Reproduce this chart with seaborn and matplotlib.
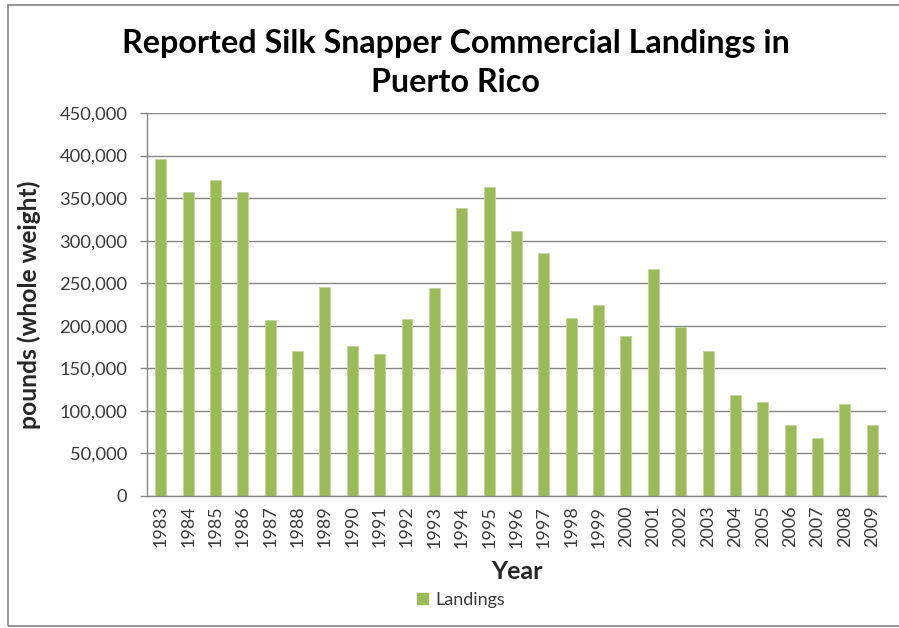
import matplotlib
matplotlib.use("Agg")
import matplotlib.pyplot as plt
import seaborn as sns
import numpy as np
from matplotlib.patches import Patch, Rectangle
from matplotlib.ticker import FuncFormatter, MultipleLocator, FixedLocator

years = [str(y) for y in range(1983, 2010)]
landings = [396000, 357000, 371000, 357000, 207000, 170000, 246000, 176500, 167000,
            208000, 244000, 338000, 363500, 311000, 285000, 209000, 224000, 188000,
            267000, 198000, 170000, 119000, 110000, 83000, 68000, 108000, 83000]
series_name = "Landings"
title = "Reported Silk Snapper Commercial Landings in\nPuerto Rico"
xlabel = "Year"
ylabel = "pounds (whole weight)"

sns.set_style("white")
plt.rcParams['font.family'] = ['Lato', 'DejaVu Sans']

bar_color = "#9BBB59"
grid_color = "#868686"
text_gray = "#3a3a3a"

fig = plt.figure(figsize=(8.99, 6.28), dpi=100)
ax = fig.add_axes([0.1635, 0.2102, 0.822, 0.6099])

sns.barplot(x=years, y=landings, color=bar_color, width=0.4, saturation=1,
            edgecolor="#C3D69B", linewidth=0.6, ax=ax)

ax.set_ylim(0, 450000)
ax.set_xlim(-0.5, len(years) - 0.5)
ax.yaxis.set_major_locator(MultipleLocator(50000))
ax.yaxis.set_major_formatter(FuncFormatter(lambda v, p: f"{int(v):,}"))
ax.grid(axis="y", color=grid_color, linewidth=1)
ax.set_axisbelow(True)

for s in ["top", "right"]:
    ax.spines[s].set_visible(False)
for s in ["left", "bottom"]:
    ax.spines[s].set_color(grid_color)
    ax.spines[s].set_linewidth(1)

ax.xaxis.set_minor_locator(FixedLocator(np.arange(-0.5, len(years), 1.0)))
ax.tick_params(axis="x", which="major", length=0, pad=7, labelsize=13, rotation=90,
               labelcolor=text_gray)
ax.tick_params(axis="x", which="minor", length=5, color=grid_color, width=1, direction="out")
ax.tick_params(axis="y", which="major", length=5, color=grid_color, width=1, direction="out",
               labelsize=13.2, labelcolor=text_gray, pad=9, left=True)

ax.set_xlabel(xlabel, fontsize=18, fontweight="bold")
ax.xaxis.set_label_coords(0.5, -0.168)
ax.set_ylabel(ylabel, fontsize=17.7, fontweight="bold")
ax.yaxis.set_label_coords(-0.143, 0.5)

fig.text(0.507, 0.899, title, ha="center", va="center", fontsize=23.2,
         fontweight="bold", linespacing=1.42, color="black")

handles = [Patch(facecolor=bar_color, edgecolor=bar_color)]
fig.legend(handles, [series_name], loc="center", bbox_to_anchor=(0.513, 0.045),
           frameon=False, fontsize=13, handlelength=0.6, handleheight=0.6,
           handletextpad=0.4, labelcolor=text_gray)

fig.add_artist(Rectangle((8 / 899, 2 / 628), 1.0, 1 - 7 / 628, transform=fig.transFigure,
                         fill=False, edgecolor="#8c8c8c", linewidth=1.3))

fig.savefig("out.png", dpi=100)
